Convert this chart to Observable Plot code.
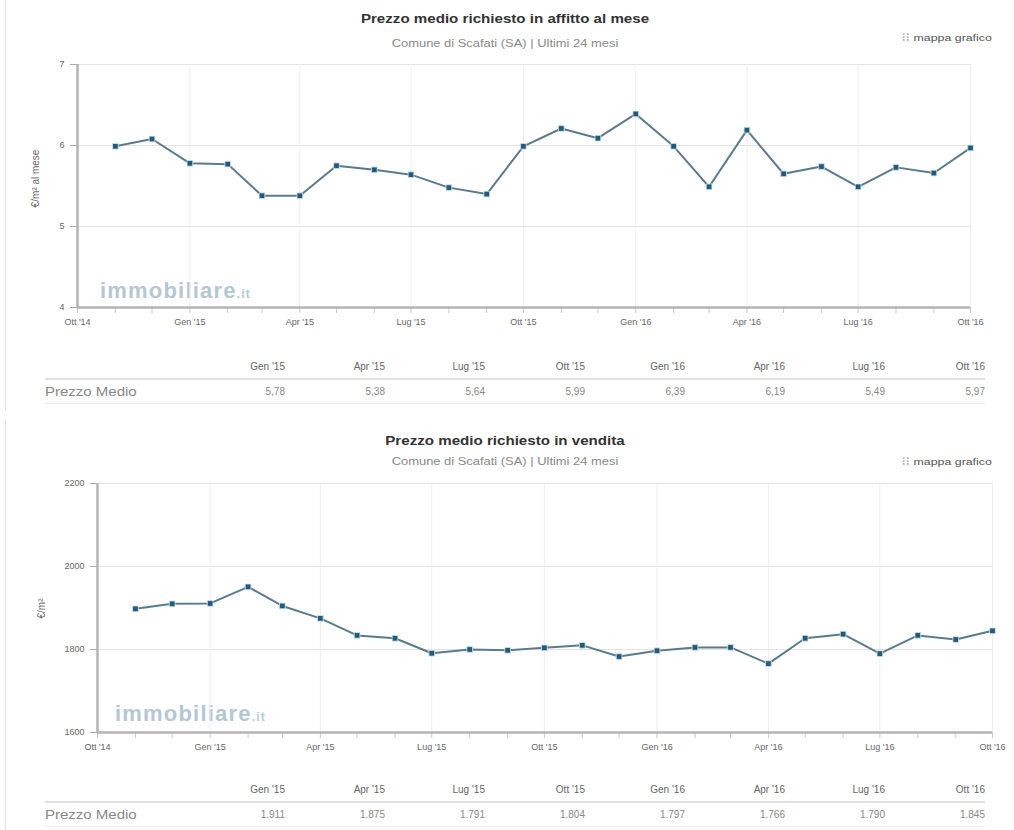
<!DOCTYPE html>
<html><head><meta charset="utf-8">
<script src="https://cdn.jsdelivr.net/npm/d3@7"></script>
<script src="https://cdn.jsdelivr.net/npm/@observablehq/plot@0.6"></script>
<style>
body{margin:0;background:#fff;font-family:"Liberation Sans",Arial,sans-serif;}
#root{position:relative;width:1014px;height:830px;overflow:hidden;}
.frame{position:absolute;left:5px;width:1px;background:#e2e2e2;}
.title{position:absolute;left:0;width:1010px;text-align:center;font-weight:bold;font-size:12px;color:#333;transform:scaleX(1.26);transform-origin:505px 0;}
.sub{position:absolute;left:0;width:1010px;text-align:center;font-size:10.5px;color:#8a8a8a;transform:scaleX(1.23);transform-origin:505px 0;}
.map{position:absolute;right:22px;font-size:9.5px;color:#555;transform:scaleX(1.3);transform-origin:right top;}
.ylab{position:absolute;transform:rotate(-90deg);transform-origin:center;font-size:10px;color:#666;white-space:nowrap;}
.wm{position:absolute;font-weight:bold;font-size:22px;color:#a3bacb;opacity:.8;letter-spacing:1.2px;}
.wm span{font-size:12px;}
table{position:absolute;border-collapse:collapse;font-size:10px;color:#666;table-layout:fixed;}
td{height:23px;padding:0;text-align:right;white-space:nowrap;}
td.first{text-align:left;}
td.first span{display:inline-block;font-size:12px;transform:scaleX(1.25);transform-origin:left center;}
tr.h td{border-bottom:2px solid #e0e0e0;}
tr.r td{border-bottom:1px solid #ececec;color:#888;}
</style></head>
<body><div id="root"></div>
<script>
// ---- data ----
const months = ["2014-11","2014-12","2015-01","2015-02","2015-03","2015-04","2015-05","2015-06","2015-07","2015-08","2015-09","2015-10",
                "2015-11","2015-12","2016-01","2016-02","2016-03","2016-04","2016-05","2016-06","2016-07","2016-08","2016-09","2016-10"];
const affitto = [5.99,6.08,5.78,5.77,5.38,5.38,5.75,5.70,5.64,5.48,5.40,5.99,6.21,6.09,6.39,5.99,5.49,6.19,5.65,5.74,5.49,5.73,5.66,5.97];
const vendita = [1898,1910,1911,1951,1905,1875,1834,1827,1791,1800,1798,1804,1810,1783,1797,1805,1805,1766,1827,1837,1790,1834,1824,1845];
const yTicksAffitto = [4,5,6,7];
const yTicksVendita = [1600,1800,2000,2200];
const mesi = ["Gen","Feb","Mar","Apr","Mag","Giu","Lug","Ago","Set","Ott","Nov","Dic"];
const axisMonths = ["2014-10", ...months];
const quarterMonths = axisMonths.filter(m => ["01","04","07","10"].includes(m.slice(5)));
const tableMonths = quarterMonths.slice(1);

const toDate = m => new Date(m + "-01T00:00:00Z");
const fmtMonth = d => `${mesi[d.getUTCMonth()]} '${String(d.getUTCFullYear()).slice(2)}`;
const itLocale = d3.formatLocale({decimal:",", thousands:".", grouping:[3], currency:["","€"]});

const root = document.getElementById("root");
function add(html){ root.insertAdjacentHTML("beforeend", html); }

function chart({values, yTicks, top, height, mt, mb, ml, mr, ylab, ylabX, ylabY}) {
  const data = months.map((m,i) => ({date: toDate(m), value: values[i]}));
  const mDates = axisMonths.map(toDate);
  const qDates = quarterMonths.map(toDate);
  const p = Plot.plot({
    width: 1014, height, marginTop: mt, marginBottom: mb, marginLeft: ml, marginRight: mr,
    style: {fontFamily: '"Liberation Sans", Arial, sans-serif', fontSize: "9px", color: "#666", background: "transparent", overflow: "visible"},
    x: {type: "utc", domain: [mDates[0], mDates[mDates.length-1]]},
    y: {domain: [yTicks[0], yTicks[yTicks.length-1]]},
    marks: [
      Plot.gridY(yTicks, {stroke: "#e4e4e4", strokeOpacity: 1}),
      Plot.gridX(qDates, {stroke: "#eeeeee", strokeOpacity: 1}),
      Plot.axisX(mDates, {tickSize: 6, tickFormat: () => "", stroke: "#c8c8c8", label: null}),
      Plot.axisX(qDates, {tickSize: 0, tickPadding: 11, tickFormat: fmtMonth, label: null, fill: "#666"}),
      Plot.axisY(yTicks, {tickSize: 7, tickPadding: 6, stroke: "#aaa", label: null, fill: "#666", tickFormat: d => String(d)}),
      Plot.ruleY([yTicks[0]], {stroke: "#b4b4b4", strokeWidth: 2.5, x1: mDates[0], x2: mDates[mDates.length-1]}),
      Plot.ruleX([mDates[0]], {stroke: "#b4b4b4", strokeWidth: 2.5}),
      Plot.line(data, {x: "date", y: "value", stroke: "#5b7b8c", strokeWidth: 2}),
      Plot.dot(data, {x: "date", y: "value", symbol: "square", r: 3.2, fill: "#24597a", stroke: "#cfe6f0", strokeWidth: 0.8})
    ]
  });
  p.style.position = "absolute"; p.style.left = "0px"; p.style.top = top + "px";
  root.appendChild(p);
  add(`<div class="ylab" style="left:${ylabX}px;top:${ylabY}px;">${ylab}</div>`);
}

function table({values, fmt, top}) {
  const vals = tableMonths.map(m => values[months.indexOf(m)]);
  let html = `<table style="left:45px;top:${top}px;width:940px;"><colgroup><col style="width:140px">` +
    tableMonths.map(() => `<col style="width:100px">`).join("") + `</colgroup>`;
  html += `<tr class="h"><td class="first"></td>` + tableMonths.map(m => `<td>${fmtMonth(toDate(m))}</td>`).join("") + `</tr>`;
  html += `<tr class="r"><td class="first"><span>Prezzo Medio</span></td>` + vals.map(v => `<td>${fmt(v)}</td>`).join("") + `</tr></table>`;
  add(html);
}

// ---- chart 1 ----
add(`<div class="frame" style="top:0;height:410px"></div>`);
add(`<div class="title" style="top:12px">Prezzo medio richiesto in affitto al mese</div>`);
add(`<div class="sub" style="top:37px">Comune di Scafati (SA) | Ultimi 24 mesi</div>`);
add(`<div class="map" style="top:32px">⫶⫶ mappa grafico</div>`);
add(`<div class="wm" style="left:100px;top:278px">immobiliare<span>.it</span></div>`);
chart({values: affitto, yTicks: yTicksAffitto, top: 50, height: 280, mt: 14, mb: 23, ml: 77, mr: 44,
       ylab: "€/m² al mese", ylabX: 7, ylabY: 173});
table({values: affitto, fmt: v => v.toFixed(2).replace(".", ","), top: 355});

// ---- chart 2 ----
add(`<div class="frame" style="top:420px;height:410px"></div>`);
add(`<div class="title" style="top:434px">Prezzo medio richiesto in vendita</div>`);
add(`<div class="sub" style="top:455px">Comune di Scafati (SA) | Ultimi 24 mesi</div>`);
add(`<div class="map" style="top:456px">⫶⫶ mappa grafico</div>`);
add(`<div class="wm" style="left:115px;top:701px">immobiliare<span>.it</span></div>`);
chart({values: vendita, yTicks: yTicksVendita, top: 470, height: 290, mt: 13, mb: 28, ml: 97, mr: 22,
       ylab: "€/m²", ylabX: 31, ylabY: 603});
table({values: vendita, fmt: itLocale.format(",d"), top: 778});
</script>
</body></html>
